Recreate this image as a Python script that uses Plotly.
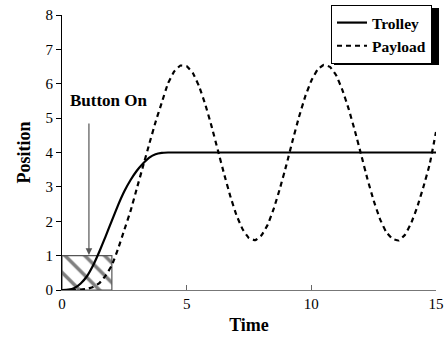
import plotly.graph_objects as go

time = [0.0, 0.25, 0.5, 0.75, 1.0, 1.25, 1.5, 1.75, 2.0, 2.25, 2.5, 2.75, 3.0, 3.25, 3.5, 3.75,
        4.0, 4.25, 4.5, 4.75, 5.0, 5.25, 5.5, 5.75, 6.0, 6.25, 6.5, 6.75, 7.0, 7.25, 7.5, 7.75,
        8.0, 8.25, 8.5, 8.75, 9.0, 9.25, 9.5, 9.75, 10.0, 10.25, 10.5, 10.75, 11.0, 11.25, 11.5, 11.75,
        12.0, 12.25, 12.5, 12.75, 13.0, 13.25, 13.5, 13.75, 14.0, 14.25, 14.5, 14.75, 15.0]

trolley = [0.0, 0.01, 0.06, 0.19, 0.4, 0.72, 1.12, 1.56, 2.02, 2.47, 2.87, 3.2, 3.47, 3.68, 3.85, 3.95,
           3.99, 4.0, 4.0, 4.0, 4.0, 4.0, 4.0, 4.0, 4.0, 4.0, 4.0, 4.0, 4.0, 4.0, 4.0, 4.0,
           4.0, 4.0, 4.0, 4.0, 4.0, 4.0, 4.0, 4.0, 4.0, 4.0, 4.0, 4.0, 4.0, 4.0, 4.0, 4.0,
           4.0, 4.0, 4.0, 4.0, 4.0, 4.0, 4.0, 4.0, 4.0, 4.0, 4.0, 4.0, 4.0]

payload = [0.0, 0.0, 0.0, 0.01, 0.03, 0.09, 0.2, 0.42, 0.72, 1.2, 1.75, 2.3, 2.95, 3.6, 4.25, 4.88,
           5.45, 6.01, 6.36, 6.53, 6.51, 6.31, 5.92, 5.39, 4.76, 4.07, 3.38, 2.73, 2.17, 1.76, 1.51, 1.45,
           1.59, 1.9, 2.38, 2.98, 3.64, 4.35, 5.02, 5.62, 6.09, 6.41, 6.55, 6.49, 6.24, 5.81, 5.26, 4.62,
           3.93, 3.23, 2.6, 2.07, 1.69, 1.49, 1.44, 1.6, 1.94, 2.42, 3.01, 3.67, 4.6]

box_x = [0, 2, 2, 0, 0]
box_y = [0, 0, 1, 1, 0]

button_t = 1.08
button_pos = 1.02

x_ticks = [0, 5, 10, 15]
y_ticks = [0, 1, 2, 3, 4, 5, 6, 7, 8]

SERIF = "Liberation Serif, Times New Roman, Times, serif"

fig = go.Figure()

fig.add_trace(go.Scatter(
    x=box_x, y=box_y, mode="lines", fill="toself", fillcolor="rgba(0,0,0,0)",
    fillpattern=dict(shape="\\", size=14, solidity=0.25, fgcolor="black", bgcolor="white"),
    line=dict(color="#555555", width=1.2), showlegend=False, hoverinfo="skip"))

fig.add_trace(go.Scatter(
    x=time, y=trolley, mode="lines", name="Trolley",
    line=dict(color="black", width=2.2, shape="spline", smoothing=0.3)))

fig.add_trace(go.Scatter(
    x=time, y=payload, mode="lines", name="Payload",
    line=dict(color="black", width=2.2, dash="5px,4px", shape="spline", smoothing=0.3)))

fig.add_annotation(x=button_t, y=button_pos, xref="x", yref="y", text="",
                   showarrow=True, ax=0, ay=-133, arrowhead=2, arrowsize=1.1,
                   arrowwidth=1.2, arrowcolor="#555555")
fig.add_annotation(x=1.88, y=5.5, xref="x", yref="y", text="Button On", showarrow=False,
                   font=dict(family=SERIF, size=17, color="black", weight="bold"))

# legend shadow
fig.add_shape(type="rect", xref="paper", yref="paper",
              x0=(334 - 62) / 374, x1=(439 - 62) / 374,
              y0=(290 - 65) / 275, y1=(290 - 8) / 275,
              fillcolor="black", line=dict(width=0), layer="above")

fig.update_layout(
    width=447, height=342,
    margin=dict(l=62, r=11, t=15, b=52, autoexpand=False),
    paper_bgcolor="white", plot_bgcolor="white",
    font=dict(family=SERIF, size=15, color="black"),
    showlegend=True,
    legend=dict(xref="container", yref="container",
                x=331 / 447, y=1 - 5 / 342, xanchor="left", yanchor="top",
                bgcolor="white", bordercolor="black", borderwidth=1,
                font=dict(family=SERIF, size=15.5, color="black", weight="bold"),
                itemwidth=30),
    xaxis=dict(range=[0, 15], tickvals=x_ticks, ticks="inside", ticklen=5,
               tickcolor="#666666", showline=True, linecolor="#777777", linewidth=1.2,
               showgrid=False, zeroline=False,
               tickfont=dict(family=SERIF, size=15),
               title=dict(text="Time", font=dict(family=SERIF, size=18, weight="bold"), standoff=7)),
    yaxis=dict(range=[0, 8], tickvals=y_ticks, ticks="outside", ticklen=5,
               tickcolor="black", showline=True, linecolor="black", linewidth=1,
               showgrid=False, zeroline=False,
               tickfont=dict(family=SERIF, size=15),
               title=dict(text="Position", font=dict(family=SERIF, size=18, weight="bold"), standoff=10)),
)

fig.write_html("out.html")
